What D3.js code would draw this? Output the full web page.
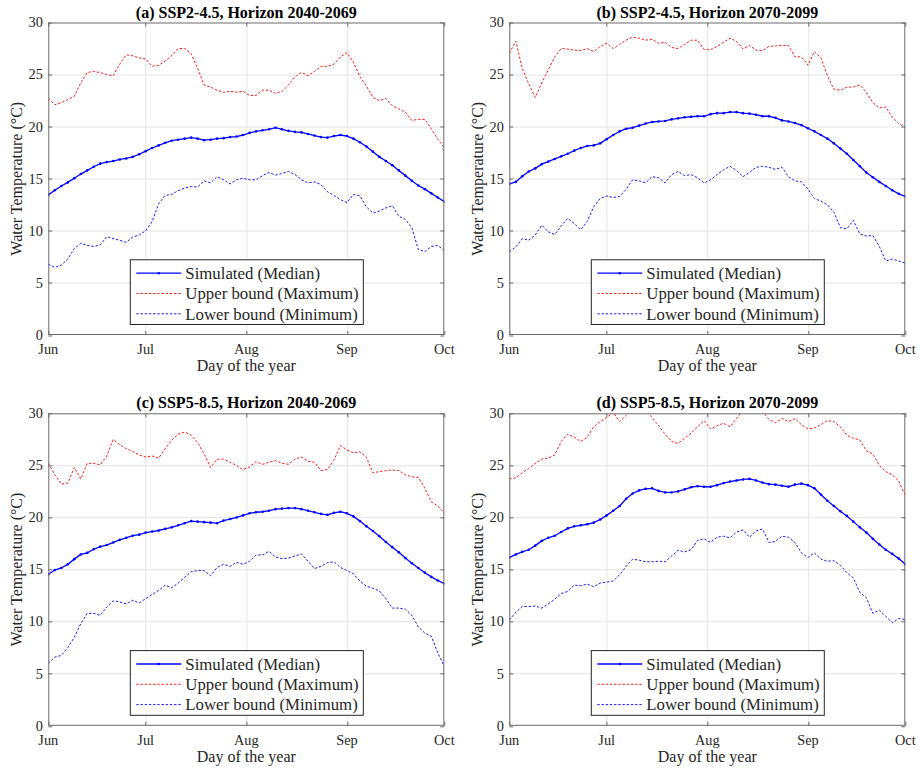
<!DOCTYPE html>
<html>
<head>
<meta charset="utf-8">
<script src="https://cdn.jsdelivr.net/npm/d3@7"></script>
<style>
  html, body { margin: 0; padding: 0; background: #fff; }
  svg { display: block; font-family: "Liberation Serif", "Times New Roman", serif; }
</style>
</head>
<body>
<svg id="chart" width="920" height="770"></svg>
<script>
// Day offsets from 1 June (sampled every second day, 1 Jun .. 1 Oct)
const days = [0,2,4,6,8,10,12,14,16,18,20,22,24,26,28,30,32,34,36,38,40,42,44,46,48,50,52,54,56,58,60,
  62,64,66,68,70,72,74,76,78,80,82,84,86,88,90,92,94,96,98,100,102,104,106,108,110,112,114,116,118,120,122];

// Month ticks on the x axis
const monthTicks = [0, 30, 61, 92, 122];
const monthLabels = ["Jun", "Jul", "Aug", "Sep", "Oct"];
const tempTicks = [0, 5, 10, 15, 20, 25, 30];

const panelTitles = [
  "(a) SSP2-4.5, Horizon 2040-2069",
  "(b) SSP2-4.5, Horizon 2070-2099",
  "(c) SSP5-8.5, Horizon 2040-2069",
  "(d) SSP5-8.5, Horizon 2070-2099"
];

const seriesNames = ["Simulated (Median)", "Upper bound (Maximum)", "Lower bound (Minimum)"];

// (a) SSP2-4.5, 2040-2069
const medA = [13.45,13.9,14.3,14.65,15.05,15.45,15.8,16.15,16.45,16.6,
  16.7,16.85,16.95,17.1,17.35,17.65,17.95,18.2,18.45,18.65,
  18.75,18.85,18.95,18.85,18.7,18.75,18.85,18.9,19.0,19.05,
  19.2,19.4,19.55,19.65,19.75,19.9,19.75,19.6,19.5,19.45,
  19.3,19.15,19.0,18.95,19.1,19.2,19.1,18.85,18.5,18.1,
  17.6,17.1,16.7,16.3,15.8,15.3,14.8,14.35,14.0,13.6,
  13.2,12.8];
const upA = [22.7,22.1,22.3,22.6,22.9,24.2,25.2,25.3,25.2,25.0,
  24.9,26.0,26.9,26.8,26.6,26.5,25.8,25.9,26.3,26.8,
  27.5,27.5,27.0,25.6,24.0,23.8,23.5,23.3,23.4,23.3,
  23.4,23.0,23.0,23.5,23.5,23.2,23.4,24.0,24.8,25.2,
  24.9,25.3,25.8,25.8,26.0,26.7,27.1,26.2,24.8,23.9,
  22.8,22.5,22.7,22.0,21.7,21.4,20.6,20.7,20.7,19.8,
  18.8,18.0];
const lowA = [6.8,6.5,6.7,7.3,8.3,8.8,8.6,8.5,8.65,9.45,
  9.25,9.1,8.9,9.4,9.6,10.0,10.9,12.6,13.4,13.5,
  13.85,14.1,14.25,14.2,14.8,14.6,15.2,14.9,14.5,14.9,
  15.05,14.9,14.9,15.3,15.6,15.35,15.5,15.7,15.4,14.9,
  14.6,14.7,14.45,13.75,13.4,13.0,12.7,13.5,13.35,12.3,
  11.7,11.9,12.2,12.4,11.4,11.1,10.3,8.2,8.0,8.5,
  8.6,8.1];

// (b) SSP2-4.5, 2070-2099
const medB = [14.5,14.7,15.25,15.7,16.0,16.4,16.65,16.9,17.15,17.4,
  17.7,17.95,18.15,18.2,18.4,18.8,19.2,19.55,19.8,19.9,
  20.1,20.3,20.45,20.5,20.55,20.7,20.8,20.9,20.95,21.0,
  21.0,21.2,21.3,21.3,21.4,21.4,21.3,21.25,21.15,21.0,
  21.0,20.85,20.6,20.5,20.35,20.15,19.85,19.55,19.2,18.85,
  18.4,17.9,17.4,16.8,16.2,15.6,15.15,14.7,14.3,13.9,
  13.55,13.3];
const upB = [27.05,28.2,25.6,24.1,22.8,24.2,25.45,26.7,27.5,27.45,
  27.35,27.3,27.5,27.2,27.7,28.0,27.5,27.9,28.3,28.6,
  28.5,28.3,28.4,28.0,28.1,27.6,27.5,27.9,28.3,28.3,
  27.4,27.4,27.7,28.1,28.5,28.2,27.45,27.8,27.35,27.3,
  27.7,27.75,27.8,27.8,26.7,26.7,25.9,27.2,26.6,24.9,
  23.6,23.5,23.8,23.8,24.0,23.3,22.3,21.8,21.9,20.9,
  20.3,19.9];
const lowB = [8.0,8.45,9.25,9.1,9.6,10.55,9.9,9.65,10.5,11.2,
  10.7,10.1,10.9,12.3,13.1,13.35,13.2,13.3,14.0,14.9,
  14.8,14.6,15.2,15.1,14.6,15.4,15.7,15.3,15.4,15.1,
  14.6,14.9,15.4,15.85,16.2,15.8,15.2,15.6,16.1,16.2,
  16.1,15.9,16.1,15.2,14.8,14.7,14.0,13.1,12.85,12.5,
  11.8,10.3,10.2,11.0,9.7,9.5,9.55,8.5,7.1,7.3,
  7.1,6.9];

// (c) SSP5-8.5, 2040-2069
const medC = [14.55,14.95,15.15,15.5,16.0,16.45,16.6,16.95,17.2,17.35,
  17.6,17.85,18.05,18.25,18.35,18.55,18.65,18.75,18.9,19.05,
  19.25,19.45,19.65,19.6,19.55,19.5,19.45,19.7,19.85,20.0,
  20.2,20.4,20.5,20.55,20.65,20.8,20.85,20.9,20.9,20.8,
  20.65,20.5,20.35,20.25,20.45,20.55,20.4,20.1,19.65,19.15,
  18.7,18.2,17.65,17.15,16.65,16.1,15.6,15.15,14.7,14.3,
  13.95,13.65];
const upC = [25.2,24.1,23.2,23.3,24.8,23.7,25.2,25.2,25.05,25.9,
  27.5,27.0,26.6,26.35,26.0,25.8,25.9,25.7,26.6,27.4,
  28.0,28.2,27.9,27.2,26.1,24.8,25.6,25.6,25.3,25.0,
  24.6,24.85,25.35,25.1,25.3,25.45,25.2,25.1,25.6,25.8,
  25.4,25.3,24.5,24.6,25.5,26.9,26.5,26.2,26.3,25.8,
  24.3,24.4,24.5,24.55,24.5,24.1,23.9,23.85,22.8,21.5,
  21.1,20.4];
const lowC = [6.0,6.6,6.75,7.5,8.5,9.8,10.8,10.8,10.6,11.4,
  12.0,11.9,11.7,12.05,11.8,12.2,12.6,13.0,13.5,13.25,
  13.7,14.25,14.8,14.9,14.9,14.4,15.2,15.5,15.3,15.7,
  15.5,15.8,16.4,16.4,16.75,16.2,16.05,16.1,16.3,16.5,
  15.8,15.1,15.3,15.65,15.75,15.2,14.9,14.6,13.9,13.4,
  13.2,12.95,12.2,11.3,11.3,11.2,10.6,9.5,8.9,8.6,
  7.0,5.7];

// (d) SSP5-8.5, 2070-2099
const medD = [16.15,16.45,16.7,16.9,17.3,17.75,18.05,18.25,18.6,18.95,
  19.15,19.25,19.35,19.5,19.8,20.2,20.65,21.1,21.8,22.3,
  22.6,22.75,22.8,22.55,22.4,22.4,22.5,22.7,22.9,23.0,
  22.95,22.95,23.1,23.3,23.45,23.55,23.65,23.7,23.55,23.35,
  23.2,23.15,23.05,22.95,23.15,23.25,23.1,22.8,22.2,21.6,
  21.1,20.6,20.15,19.6,19.05,18.55,17.95,17.4,16.9,16.5,
  16.05,15.5];
const upD = [23.7,23.8,24.3,24.7,25.2,25.6,25.7,26.0,27.3,28.0,
  27.7,27.3,27.7,28.7,29.2,29.6,30.1,29.2,29.8,30.5,
  30.8,30.3,29.6,28.8,28.0,27.3,27.1,27.6,28.1,28.7,
  29.3,28.5,28.8,29.05,28.7,29.5,30.3,30.8,30.6,30.2,
  29.4,29.1,29.5,29.2,29.5,28.9,28.5,28.6,28.9,29.3,
  29.2,28.7,27.9,27.6,27.45,26.4,26.1,25.0,24.4,24.1,
  23.5,22.1];
const lowD = [10.15,10.9,11.45,11.45,11.5,11.3,11.7,12.15,12.7,12.9,
  13.5,13.45,13.6,13.35,13.7,13.8,13.9,14.5,15.3,16.0,
  15.9,15.75,15.75,15.8,15.75,16.3,16.85,16.7,16.9,17.8,
  17.95,17.6,18.1,18.2,18.05,18.6,18.8,18.1,18.7,18.9,
  17.6,17.7,18.2,18.1,17.6,16.6,16.15,16.6,16.0,15.8,
  15.85,15.4,14.7,14.2,12.8,12.3,10.8,11.1,10.5,9.9,
  10.3,10.2];

const panelSeries = [
  { med: medA, up: upA, low: lowA },
  { med: medB, up: upB, low: lowB },
  { med: medC, up: upC, low: lowC },
  { med: medD, up: upD, low: lowD }
];

// ---- layout & styles ----
const plotW = 396, plotH = 312.5;
const origins = [[48.3, 22.5], [509.3, 22.5], [48.3, 413.3], [509.3, 413.3]];
const colMed = "#0000ff", colUp = "#ff1a1a", colLow = "#1a1aff";
const axisCol = "#6b6b6b", textCol = "#262626", gridCol = "#e3e3e3";

const svg = d3.select("#chart");
const x = d3.scaleLinear().domain([0, 122]).range([0, plotW]);
const y = d3.scaleLinear().domain([0, 30]).range([plotH, 0]);

const lineGen = vals => d3.line()
  .x((d, i) => x(days[i]))
  .y(d => y(d))(vals);

svg.append("defs").append("clipPath").attr("id", "plotClip")
  .append("rect").attr("x", 0).attr("y", 0).attr("width", plotW).attr("height", plotH);

panelSeries.forEach((s, p) => {
  const [ox, oy] = origins[p];
  const g = svg.append("g").attr("transform", `translate(${ox},${oy})`);

  // background grid
  g.append("g").selectAll("line.gy").data(tempTicks.slice(1, -1)).join("line")
    .attr("x1", 0).attr("x2", plotW)
    .attr("y1", d => Math.round(y(d)) + 0.5).attr("y2", d => Math.round(y(d)) + 0.5)
    .attr("stroke", gridCol).attr("stroke-width", 1);
  g.append("g").selectAll("line.gx").data(monthTicks.slice(1, -1)).join("line")
    .attr("y1", 0).attr("y2", plotH)
    .attr("x1", d => Math.round(x(d)) + 0.5).attr("x2", d => Math.round(x(d)) + 0.5)
    .attr("stroke", gridCol).attr("stroke-width", 1);

  // series
  const lines = g.append("g").attr("clip-path", "url(#plotClip)");
  lines.append("path").attr("d", lineGen(s.up))
    .attr("fill", "none").attr("stroke", colUp).attr("stroke-width", 1)
    .attr("stroke-dasharray", "2.4,1.8");
  lines.append("path").attr("d", lineGen(s.low))
    .attr("fill", "none").attr("stroke", colLow).attr("stroke-width", 1)
    .attr("stroke-dasharray", "2.4,1.8");
  lines.append("path").attr("d", lineGen(s.med))
    .attr("fill", "none").attr("stroke", colMed).attr("stroke-width", 1.3);
  lines.append("g").selectAll("circle").data(s.med).join("circle")
    .attr("cx", (d, i) => x(days[i])).attr("cy", d => y(d))
    .attr("r", 1.3).attr("fill", colMed);

  // legend (centred at the bottom of the axes)
  const lgW = 233, lgH = 64.7;
  const lg = g.append("g").attr("transform", `translate(${plotW / 2 - lgW / 2 + 0.5},${plotH - 10.5 - lgH})`);
  lg.append("rect").attr("width", lgW).attr("height", lgH)
    .attr("fill", "#fff").attr("stroke", textCol).attr("stroke-width", 1);
  const rows = [
    { name: seriesNames[0], col: colMed, dash: null, w: 1.3 },
    { name: seriesNames[1], col: colUp, dash: "2.4,1.8", w: 1 },
    { name: seriesNames[2], col: colLow, dash: "2.4,1.8", w: 1 }
  ];
  rows.forEach((r, i) => {
    const ry = 13.4 + i * 20.3;
    lg.append("line").attr("x1", 6).attr("x2", 51).attr("y1", ry).attr("y2", ry)
      .attr("stroke", r.col).attr("stroke-width", r.w)
      .attr("stroke-dasharray", r.dash);
    if (i === 0) lg.append("circle").attr("cx", 28.5).attr("cy", ry).attr("r", 1.3).attr("fill", r.col);
    lg.append("text").attr("x", 55).attr("y", ry).attr("dy", "0.34em")
      .attr("font-size", 16.8).attr("fill", textCol).text(r.name);
  });

  // axes box with inward ticks
  g.append("rect").attr("x", 0.5).attr("y", 0.5).attr("width", plotW - 1).attr("height", plotH - 1)
    .attr("fill", "none").attr("stroke", axisCol).attr("stroke-width", 1);
  const tl = 4;
  const tk = g.append("g").attr("stroke", axisCol).attr("stroke-width", 1);
  tempTicks.forEach(t => {
    const yy = Math.round(y(t)) + 0.5;
    tk.append("line").attr("x1", 0).attr("x2", tl).attr("y1", yy).attr("y2", yy);
    tk.append("line").attr("x1", plotW - tl).attr("x2", plotW).attr("y1", yy).attr("y2", yy);
  });
  monthTicks.forEach(t => {
    const xx = Math.round(x(t)) + 0.5;
    tk.append("line").attr("y1", plotH).attr("y2", plotH - tl).attr("x1", xx).attr("x2", xx);
    tk.append("line").attr("y1", 0).attr("y2", tl).attr("x1", xx).attr("x2", xx);
  });

  // tick labels
  g.append("g").selectAll("text").data(tempTicks).join("text")
    .attr("x", -5.5).attr("y", d => y(d)).attr("dy", "0.34em")
    .attr("text-anchor", "end").attr("font-size", 14.3).attr("fill", textCol)
    .text(d => d);
  g.append("g").selectAll("text").data(monthTicks).join("text")
    .attr("x", d => x(d)).attr("y", plotH + 19)
    .attr("text-anchor", "middle").attr("font-size", 14.3).attr("fill", textCol)
    .text((d, i) => monthLabels[i]);

  // axis titles
  g.append("text").attr("x", plotW / 2).attr("y", plotH + 36)
    .attr("text-anchor", "middle").attr("font-size", 16).attr("fill", textCol)
    .text("Day of the year");
  g.append("text").attr("transform", `translate(-26,${plotH / 2}) rotate(-90)`)
    .attr("text-anchor", "middle").attr("font-size", 16).attr("fill", textCol)
    .text("Water Temperature (°C)");

  // panel title
  g.append("text").attr("x", plotW / 2).attr("y", -5)
    .attr("text-anchor", "middle").attr("font-size", 16).attr("font-weight", "bold")
    .attr("fill", "#000").text(panelTitles[p]);
});
</script>
</body>
</html>
